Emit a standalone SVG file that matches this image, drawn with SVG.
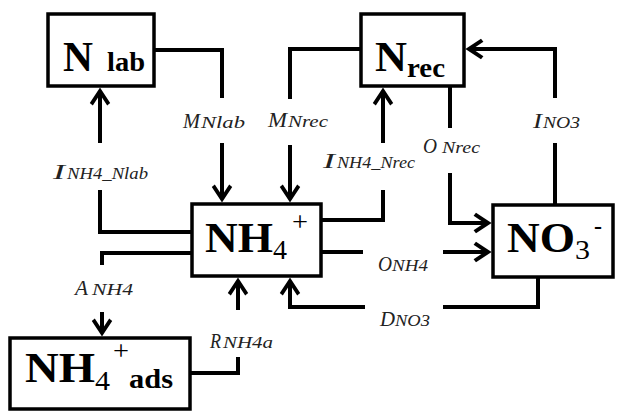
<svg xmlns="http://www.w3.org/2000/svg" width="617" height="412" viewBox="0 0 617 412" font-family="Liberation Serif, Times New Roman, serif">
<style>
.box{fill:#fff;stroke:#000;stroke-width:3.5}
.c{fill:none;stroke:#000;stroke-width:4;stroke-linejoin:miter;stroke-linecap:butt}
.big{font-weight:bold;font-size:42px;fill:#000}
.mid{font-weight:bold;font-size:28px;fill:#000}
.reg{font-size:28px;fill:#000}
.l{font-style:italic;font-size:20px;fill:#222}
.s{font-style:italic;font-size:16px;fill:#222}
</style>
<defs>
<marker id="ah" markerUnits="userSpaceOnUse" markerWidth="24" markerHeight="24" viewBox="-16 -10 20 20" refX="-3" refY="0" orient="auto" overflow="visible">
<path d="M0,0 L-13,-8.5 L-15,-6 L-6,0 L-15,6 L-13,8.5 Z" fill="#000"/>
</marker>
</defs>
<g id="connectors">
<path class="c" d="M154,50 H222 V98"/>
<path class="c" d="M222,143 V199" marker-end="url(#ah)"/>
<path class="c" d="M361,49 H290 V99"/>
<path class="c" d="M290,145 V199" marker-end="url(#ah)"/>
<path class="c" d="M192,232 H100 V190"/>
<path class="c" d="M100,143 V91" marker-end="url(#ah)"/>
<path class="c" d="M321,220 H383 V190"/>
<path class="c" d="M383,143 V91" marker-end="url(#ah)"/>
<path class="c" d="M450,86 V128"/>
<path class="c" d="M450,173 V223 H488" marker-end="url(#ah)"/>
<path class="c" d="M555,205 V143"/>
<path class="c" d="M555,98 V49 H469" marker-end="url(#ah)"/>
<path class="c" d="M321,252 H363"/>
<path class="c" d="M443,252 H488" marker-end="url(#ah)"/>
<path class="c" d="M538,277 V307 H443"/>
<path class="c" d="M365,307 H290 V281" marker-end="url(#ah)"/>
<path class="c" d="M192,253 H102 V265"/>
<path class="c" d="M102,312 V333" marker-end="url(#ah)"/>
<path class="c" d="M190,373 H238 V357"/>
<path class="c" d="M238,310 V281" marker-end="url(#ah)"/>
</g>
<g id="labels" font-family="Liberation Serif, Times New Roman, serif">
<text class="l" x="183" y="128" textLength="17" lengthAdjust="spacingAndGlyphs">M</text>
<text class="s" x="201" y="128" textLength="44" lengthAdjust="spacingAndGlyphs">Nlab</text>
<text class="l" x="268" y="127" textLength="19" lengthAdjust="spacingAndGlyphs">M</text>
<text class="s" x="288" y="127" textLength="40" lengthAdjust="spacingAndGlyphs">Nrec</text>
<text class="l" x="53" y="179" textLength="12" lengthAdjust="spacingAndGlyphs">I</text>
<text class="s" x="67" y="179" textLength="81" lengthAdjust="spacingAndGlyphs">NH4_Nlab</text>
<text class="l" x="323" y="168" textLength="12" lengthAdjust="spacingAndGlyphs">I</text>
<text class="s" x="337" y="168" textLength="78" lengthAdjust="spacingAndGlyphs">NH4_Nrec</text>
<text class="l" x="423" y="153" textLength="14" lengthAdjust="spacingAndGlyphs">O</text>
<text class="s" x="442" y="153" textLength="38" lengthAdjust="spacingAndGlyphs">Nrec</text>
<text class="l" x="533" y="128" textLength="9" lengthAdjust="spacingAndGlyphs">I</text>
<text class="s" x="543" y="128" textLength="37" lengthAdjust="spacingAndGlyphs">NO3</text>
<text class="l" x="75" y="295" textLength="13" lengthAdjust="spacingAndGlyphs">A</text>
<text class="s" x="92" y="295" textLength="41" lengthAdjust="spacingAndGlyphs">NH4</text>
<text class="l" x="210" y="348" textLength="11" lengthAdjust="spacingAndGlyphs">R</text>
<text class="s" x="223" y="348" textLength="50" lengthAdjust="spacingAndGlyphs">NH4a</text>
<text class="l" x="378" y="271" textLength="14" lengthAdjust="spacingAndGlyphs">O</text>
<text class="s" x="392" y="271" textLength="36" lengthAdjust="spacingAndGlyphs">NH4</text>
<text class="l" x="380" y="326" textLength="15" lengthAdjust="spacingAndGlyphs">D</text>
<text class="s" x="395" y="326" textLength="35" lengthAdjust="spacingAndGlyphs">NO3</text>
</g>
<g id="Nlab" font-family="Liberation Serif, Times New Roman, serif">
<rect class="box" x="48" y="14" width="106" height="72"/>
<text class="big" x="63" y="71" textLength="30" lengthAdjust="spacingAndGlyphs">N</text>
<text class="mid" x="107" y="71" textLength="38" lengthAdjust="spacingAndGlyphs">lab</text>
</g>
<g id="Nrec" font-family="Liberation Serif, Times New Roman, serif">
<rect class="box" x="361" y="14" width="103" height="72"/>
<text class="big" x="375" y="71" textLength="32" lengthAdjust="spacingAndGlyphs">N</text>
<text class="mid" x="407" y="77" textLength="38" lengthAdjust="spacingAndGlyphs">rec</text>
</g>
<g id="NH4" font-family="Liberation Serif, Times New Roman, serif">
<rect class="box" x="192" y="204" width="129" height="72"/>
<text class="big" x="205" y="252" textLength="68" lengthAdjust="spacingAndGlyphs">NH</text>
<text class="reg" x="273" y="259" textLength="14" lengthAdjust="spacingAndGlyphs">4</text>
<text class="reg" x="292" y="231" textLength="16" lengthAdjust="spacingAndGlyphs">+</text>
</g>
<g id="NO3" font-family="Liberation Serif, Times New Roman, serif">
<rect class="box" x="493" y="205" width="120" height="72"/>
<text class="big" x="507" y="252" textLength="68" lengthAdjust="spacingAndGlyphs">NO</text>
<text class="reg" x="575" y="259" textLength="15" lengthAdjust="spacingAndGlyphs">3</text>
<text class="reg" x="594" y="234" textLength="8" lengthAdjust="spacingAndGlyphs">-</text>
</g>
<g id="NH4ads" font-family="Liberation Serif, Times New Roman, serif">
<rect class="box" x="10" y="338" width="180" height="71"/>
<text class="big" x="25" y="382" textLength="70" lengthAdjust="spacingAndGlyphs">NH</text>
<text class="reg" x="95" y="390" textLength="15" lengthAdjust="spacingAndGlyphs">4</text>
<text class="reg" x="113" y="360" textLength="16" lengthAdjust="spacingAndGlyphs">+</text>
<text class="mid" x="129" y="388" textLength="44" lengthAdjust="spacingAndGlyphs">ads</text>
</g>
</svg>
